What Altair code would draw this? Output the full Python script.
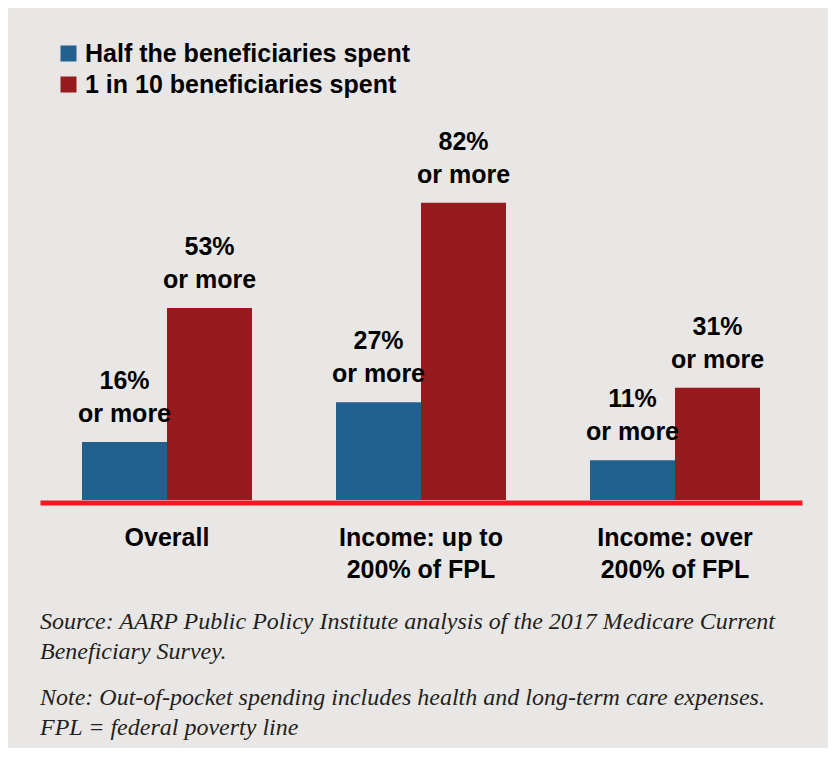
import altair as alt
import pandas as pd

categories = ["Overall", "Income: up to\n200% of FPL", "Income: over\n200% of FPL"]
series = ["Half the beneficiaries spent", "1 in 10 beneficiaries spent"]
half_values = [16, 27, 11]
tenth_values = [53, 82, 31]
colors = ["#21608f", "#951b1f"]
source_lines = [
    "Source: AARP Public Policy Institute analysis of the 2017 Medicare Current",
    "Beneficiary Survey.",
]
note_lines = [
    "Note: Out-of-pocket spending includes health and long-term care expenses.",
    "FPL = federal poverty line",
]

rows = []
for c, h, t in zip(categories, half_values, tenth_values):
    rows.append({"category": c, "series": series[0], "value": h})
    rows.append({"category": c, "series": series[1], "value": t})
df = pd.DataFrame(rows)
df["label"] = df["value"].astype(str) + "%\nor more"

SANS = "Liberation Sans"
SERIF = "Liberation Serif"
FS = 25

x = alt.X(
    "category:N",
    sort=categories,
    scale=alt.Scale(paddingInner=0, paddingOuter=0),
    axis=alt.Axis(
        title=None,
        labelExpr="split(datum.label, '\\n')",
        labelAngle=0,
        ticks=False,
        domainColor="#ed1c24",
        domainWidth=5,
        offset=2.5,
        labelPadding=23,
        labelFont=SANS,
        labelFontSize=FS,
        labelFontWeight="bold",
        labelColor="black",
        labelLineHeight=32,
        labelLimit=0,
    ),
)
xoff = alt.XOffset(
    "series:N", sort=series, scale=alt.Scale(paddingInner=0, paddingOuter=0.494)
)
y = alt.Y(
    "value:Q",
    scale=alt.Scale(domain=[0, 101], nice=False),
    axis=None,
)

bars = alt.Chart().mark_bar().encode(
    x=x,
    xOffset=xoff,
    y=y,
    color=alt.Color(
        "series:N",
        sort=series,
        scale=alt.Scale(domain=series, range=colors),
        legend=alt.Legend(
            title=None,
            orient="none",
            legendX=16,
            legendY=-93,
            symbolType="square",
            symbolSize=256,
            symbolStrokeWidth=0,
            labelFont=SANS,
            labelFontSize=FS,
            labelFontWeight="bold",
            labelColor="black",
            labelOffset=4,
            rowPadding=5,
            padding=0,
            labelLimit=0,
        ),
    ),
)

texts = alt.Chart().mark_text(
    align="center",
    baseline="bottom",
    dy=-48,
    lineBreak="\n",
    lineHeight=33,
    font=SANS,
    fontSize=FS,
    fontWeight="bold",
    color="black",
).encode(x=x, xOffset=xoff, y=y, text="label:N")

chart = alt.layer(bars, texts, data=df).properties(
    width=762,
    height=366,
    autosize=alt.AutoSizeParams(type="none"),
    padding={"left": 32, "top": 126, "right": 26, "bottom": 248},
    background="#e9e7e5",
    title=alt.TitleParams(
        text=source_lines,
        subtitle=note_lines,
        orient="bottom",
        anchor="start",
        frame="group",
        font=SERIF,
        fontSize=24,
        fontStyle="italic",
        fontWeight="normal",
        color="#231f20",
        lineHeight=30,
        subtitleFont=SERIF,
        subtitleFontSize=24,
        subtitleFontStyle="italic",
        subtitleFontWeight="normal",
        subtitleColor="#231f20",
        subtitleLineHeight=30,
        subtitlePadding=22,
        offset=27,
    ),
).configure_view(strokeWidth=0)

chart.save("out.html", embed_options={"renderer": "svg", "actions": False})
